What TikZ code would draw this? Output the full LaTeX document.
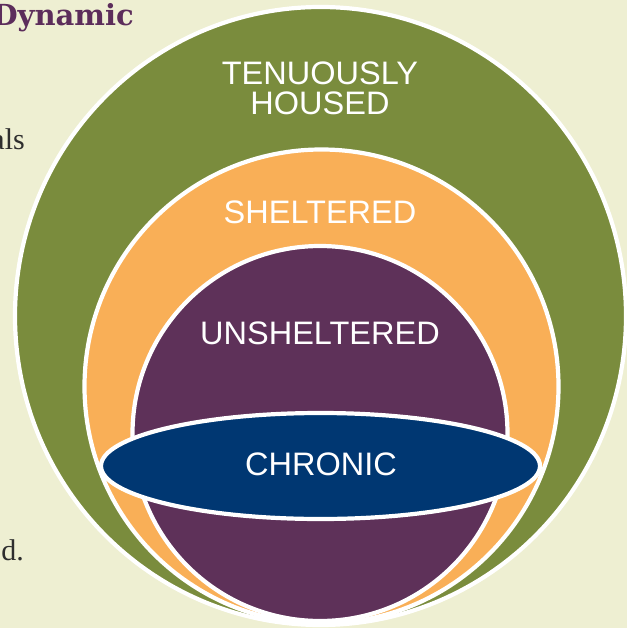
\documentclass[tikz,border=0pt]{standalone}
\usepackage{fontspec}
\setmainfont{Liberation Sans}
\newfontfamily\headfont{DejaVu Serif}
\newfontfamily\bodyfont{Liberation Serif}
\definecolor{bgcream}{HTML}{EEEFD2}
\definecolor{tgreen}{HTML}{7A8C3D}
\definecolor{torange}{HTML}{F9AF57}
\definecolor{tpurple}{HTML}{5E3159}
\definecolor{tnavy}{HTML}{003772}
\definecolor{headpurple}{HTML}{5C2D5B}
\definecolor{bodygray}{HTML}{2E2E2E}
\begin{document}
\begin{tikzpicture}[x=1pt,y=-1pt,
  ring/.style={draw=white,line width=4.2pt},
  lbl/.style={text=white,font=\fontsize{32.5}{30}\selectfont,inner sep=0pt,anchor=base},
  frag/.style={text=bodygray,font=\bodyfont\fontsize{30}{30}\selectfont,inner sep=0pt,anchor=base east}]
\useasboundingbox (0,0) rectangle (627,628);
\fill[bgcream] (0,0) rectangle (627,628);
\begin{scope}
\clip (0,0) rectangle (627,628);
\draw[ring,fill=tgreen] (320.5,316) ellipse [x radius=305.5, y radius=309];
\draw[ring,fill=torange] (321.5,386.5) circle [radius=237];
\draw[ring,fill=tpurple] (320,433.5) circle [radius=187.5];
\draw[ring,fill=tnavy] (320.5,466) ellipse [x radius=219.5, y radius=53];
\end{scope}
\node[lbl] (tenuously) at (320,85) {TENUOUSLY};
\node[lbl] (housed) at (320,115) {HOUSED};
\node[lbl] (sheltered) at (320,223.5) {SHELTERED};
\node[lbl] (unsheltered) at (320,344.5) {UNSHELTERED};
\node[lbl] (chronic) at (321,475) {CHRONIC};
\node[text=headpurple,font=\headfont\bfseries\fontsize{29}{29}\selectfont,inner sep=0pt,anchor=base east] (dynamic) at (134,26) {Dynamic};
\node[frag] (als) at (25,150) {als};
\node[frag] (dfrag) at (24,560) {d.};
\end{tikzpicture}
\end{document}
